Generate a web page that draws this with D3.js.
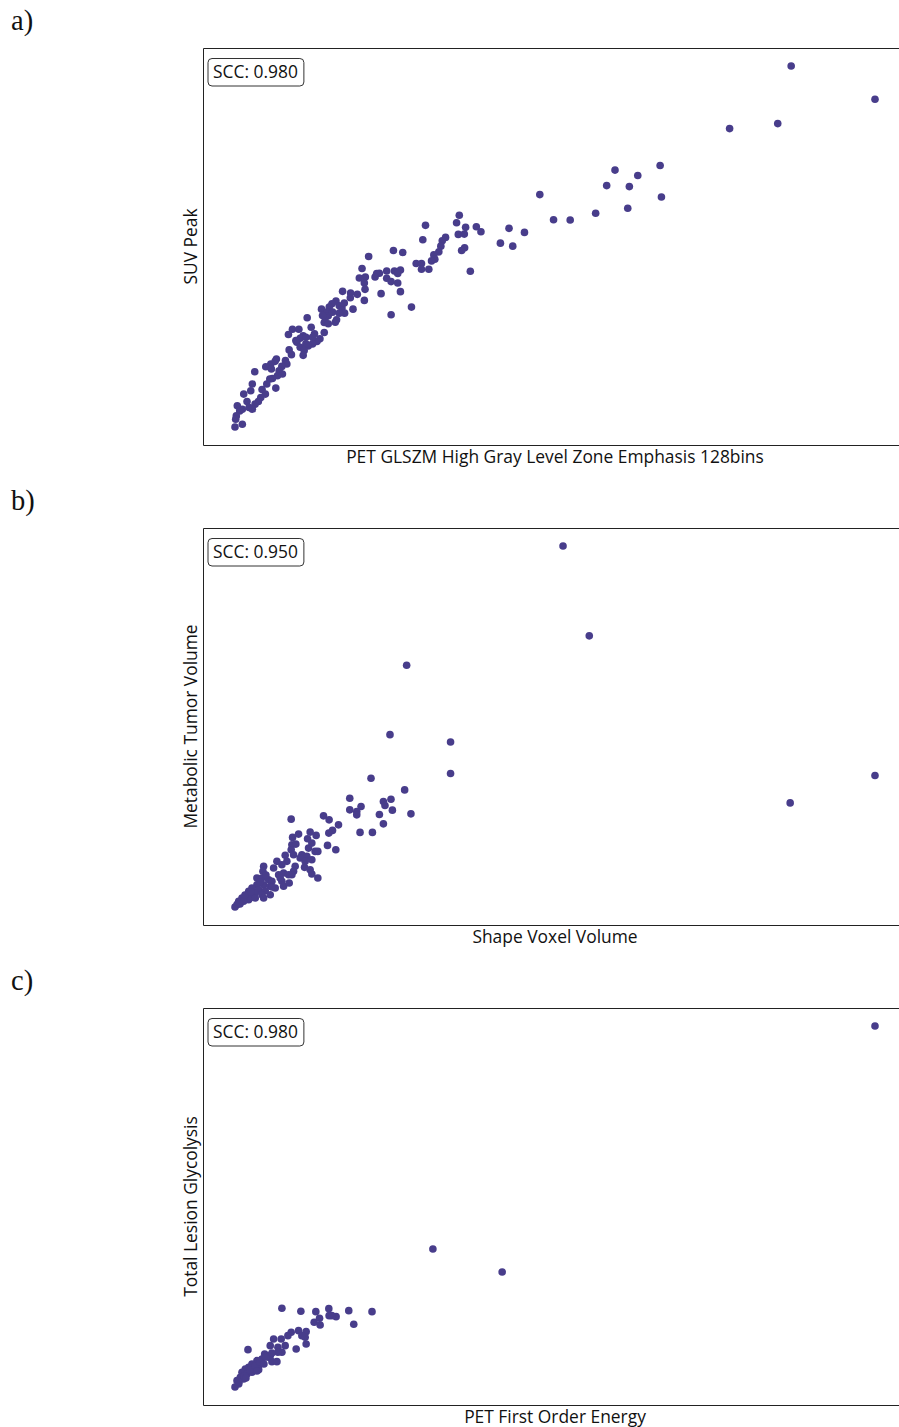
<!DOCTYPE html>
<html>
<head>
<meta charset="utf-8">
<script src="https://cdn.jsdelivr.net/npm/d3@7"></script>
<style>
  html, body { margin: 0; padding: 0; background: #fff; }
  svg { display: block; }
</style>
</head>
<body>
<svg id="fig" width="899" height="1427"></svg>
<script>
// ---- Panel a: HGLZE (128 bins) vs SUV peak ----
const hglze = [5877,6713,5743,5263,4570,4120,4347,4037,4263,4583,3370,4247,3927,3507,3673,
  2567,2540,2230,2630,2737,2783,3063,3217,2977,3100,2557,2617,2430,2397,2203,2383,2620,2590,2363,
  1910,2003,2313,2323,2290,2137,2190,2190,2263,2677,1843,1920,1980,1953,1770,1843,1887,1953,1787,
  1980,2090,1887,1663,1597,1743,1727,1630,1570,1627,1620,1550,1483,1403,1480,1620,1507,1337,1297,
  1270,1370,1397,1193,1247,1260,1230,1423,1330,1343,1220,1260,1050,1220,1177,1147,1103,1060,1090,
  1123,903,967,863,1010,980,947,1037,980,1020,1010,870,893,833,847,797,743,730,687,637,693,770,803,
  753,703,527,677,647,600,633,737,587,563,530,503,487,417,450,470,403,353,377,343,337,330,403,503,
  1420,1303,1370,1203,1103,1037,937];
const suvPeak = [37.83,34.53,32.10,31.60,27.93,27.47,26.93,25.93,25.83,24.80,25.03,23.67,23.17,22.53,22.50,
  22.97,22.23,21.97,21.77,21.83,21.33,21.67,21.27,20.20,19.90,21.07,21.10,20.77,20.43,20.53,19.90,19.73,19.47,19.33,
  19.47,19.27,19.03,18.60,18.43,18.17,18.17,17.60,17.60,17.40,17.43,17.43,17.53,17.17,17.20,16.70,16.37,16.23,15.17,
  15.37,13.83,13.07,18.87,17.67,17.17,16.83,16.83,16.73,15.60,16.23,15.10,15.23,15.40,14.77,14.50,13.63,14.43,14.17,
  13.83,13.97,13.73,13.63,13.33,12.97,12.77,13.23,12.33,12.57,12.30,12.17,12.77,11.30,10.67,10.40,10.17,9.97,11.83,
  11.17,11.63,11.63,11.10,10.97,10.73,10.33,10.17,9.83,9.50,9.03,9.57,9.10,8.50,8.17,7.93,8.67,8.43,8.17,7.90,7.67,7.50,7.17,
  7.00,6.73,7.40,6.67,6.17,5.63,5.17,5.77,4.83,4.43,4.17,6.17,5.50,5.17,4.43,3.83,3.67,4.00,3.50,3.00,2.67,1.90,2.17,3.67,
  14.23,13.33,13.23,13.00,10.83,10.83,10.50];

// ---- Panel b: shape voxel volume (thousand voxels) vs MTV (mL) ----
const voxelVolume = [358.7,385,671.3,586.3,202,185.3,246,246,166.3,200,145,145,156.3,152,152,178.7,186.3,180.3,
  187.7,174.7,206.3,178.7,155.3,167.7,86.3,118.7,124.3,133.7,127.7,124,105.3,111.3,93.7,87.7,102.7,107,103.7,110.3,
  113,122.7,131,87,91,86.3,88.7,97,95.3,102,107,100.3,80.3,82,77,72,68.7,58.7,58,90.3,88.7,87,99.7,105.3,107,113,
  78.7,83.7,77,78.7,84.3,73.7,75.3,52,57,63.7,67,52,58.7,65.3,70.3,47,53.7,60.3,43.7,50.3,57,65.3,42,47,37,43.7,
  33.7,38.7,32,58.7,50.3,30,35,40,46,55,61,67];
const mtv = [377.7,287.7,147.7,120.3,258.3,188.7,181.3,149.7,145,133.3,125,113.3,116.7,111.7,108.3,121.7,124,117.7,
  113,108.7,109.3,99.3,90.7,90.7,104,107.3,103.3,98.3,92.7,90,91,87.7,89,85.7,84.3,80,75,71.7,
  71.7,77.7,73.3,78.3,79,73.3,68.3,68.3,65,66.7,63.3,61.7,67.7,61.7,58.3,61.7,55,56.7,51.7,56.7,51.7,48.3,55.7,53.3,49,45,
  50,48.3,41.7,36.7,40,48.3,45,45,45,43.3,41.7,38.3,38.3,36.7,35,35,33.3,32.3,31.7,30,28.3,28.3,26.7,25.7,25,23.3,
  21.7,21.7,18.3,25,25,16,19,28,31,41,48,36];

// ---- Panel c: first order energy (×10^6) vs TLG ----
const energy = [671.3,228.3,297.7,77,96,111,109.3,114.7,115.3,124,124.3,131.3,144,149,167.3,43,101.3,100.3,101.3,
  93.7,97,91.3,86.3,83,76.3,68.7,80.3,73,65.3,77,73,59.7,63.7,67,72,57,52,53.7,47,43.7,48.7,40.3,37,42,35.3,32,
  33.7,38.7,47,53.7,65.3,30,34,39,45,50,55,61,67,59,52,41,127];
const tlg = [3780,1550,1320,957,927,923,817,857,790,953,883,873,933,797,923,543,723,667,600,
  733,683,550,717,683,650,650,583,567,583,517,517,500,467,423,423,450,433,383,400,367,350,350,317,300,267,233,
  200,250,317,343,483,170,220,280,340,380,420,470,510,400,330,260,883];

const panels = [
  { tag: "a)", xs: hglze, ys: suvPeak, scc: "SCC: 0.980",
    xLabel: "PET GLSZM High Gray Level Zone Emphasis 128bins", yLabel: "SUV Peak" },
  { tag: "b)", xs: voxelVolume, ys: mtv, scc: "SCC: 0.950",
    xLabel: "Shape Voxel Volume", yLabel: "Metabolic Tumor Volume" },
  { tag: "c)", xs: energy, ys: tlg, scc: "SCC: 0.980",
    xLabel: "PET First Order Energy", yLabel: "Total Lesion Glycolysis" }
];

const svg = d3.select("#fig");
const left = 203, right = 907, plotH = 397, firstTop = 48, step = 480;
const dotColor = "#483d8b";
const sans = "'Open Sans', 'Noto Sans', sans-serif";
const fontSize = 17.4;

// matplotlib-style 5% padding around the data extent
function padded(vals) {
  const [lo, hi] = d3.extent(vals);
  const m = (hi - lo) * 0.05;
  return [lo - m, hi + m];
}

panels.forEach((p, i) => {
  const top = firstTop + i * step;
  const bottom = top + plotH;
  const g = svg.append("g");

  const x = d3.scaleLinear().domain(padded(p.xs)).range([left, right]);
  const y = d3.scaleLinear().domain(padded(p.ys)).range([bottom, top]);

  // panel tag
  g.append("text")
    .attr("x", 11).attr("y", top - 18)
    .attr("font-family", "'Liberation Serif', 'DejaVu Serif', serif")
    .attr("font-size", 28.5).attr("fill", "#111")
    .text(p.tag);

  // axes frame (ticks hidden)
  g.append("g").attr("transform", `translate(0,${bottom})`)
    .call(d3.axisBottom(x).tickValues([]).tickSizeOuter(0))
    .select(".domain").attr("stroke", "#222").attr("stroke-width", 1);
  g.append("g").attr("transform", `translate(0,${top})`)
    .call(d3.axisTop(x).tickValues([]).tickSizeOuter(0))
    .select(".domain").attr("stroke", "#222").attr("stroke-width", 1);
  g.append("g").attr("transform", `translate(${left},0)`)
    .call(d3.axisLeft(y).tickValues([]).tickSizeOuter(0))
    .select(".domain").attr("stroke", "#222").attr("stroke-width", 1);

  // points
  g.append("g").selectAll("circle")
    .data(d3.zip(p.xs, p.ys))
    .join("circle")
    .attr("cx", d => x(d[0]))
    .attr("cy", d => y(d[1]))
    .attr("r", 3.8)
    .attr("fill", dotColor);

  // correlation badge
  const badge = g.append("g").attr("transform", `translate(${left + 4.5},${top + 10})`);
  const t = badge.append("text")
    .attr("x", 5.5).attr("y", 20)
    .attr("font-family", sans).attr("font-size", fontSize).attr("fill", "#111")
    .text(p.scc);
  const w = t.node().getComputedTextLength();
  badge.insert("rect", "text")
    .attr("x", 0.5).attr("y", 0.5)
    .attr("width", w + 11).attr("height", 27.5)
    .attr("rx", 4).attr("ry", 4)
    .attr("fill", "#fff").attr("stroke", "#333").attr("stroke-width", 1);

  // axis titles
  g.append("text")
    .attr("x", (left + right) / 2).attr("y", bottom + 17.5)
    .attr("text-anchor", "middle")
    .attr("font-family", sans).attr("font-size", fontSize).attr("fill", "#111")
    .text(p.xLabel);
  g.append("text")
    .attr("transform", `translate(${left - 6.5},${(top + bottom) / 2}) rotate(-90)`)
    .attr("text-anchor", "middle")
    .attr("font-family", sans).attr("font-size", fontSize).attr("fill", "#111")
    .text(p.yLabel);
});
</script>
</body>
</html>
